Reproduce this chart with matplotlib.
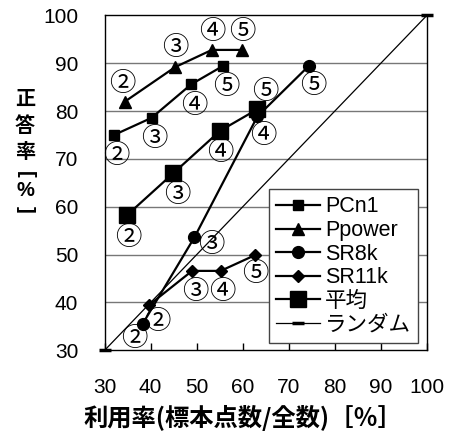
import matplotlib
matplotlib.use("Agg")
import matplotlib.pyplot as plt

plt.rcParams['font.family'] = ['Liberation Sans', 'Noto Sans CJK JP']

# recognition rate vs. usage rate, per feature set (steps 2..5)
steps = ['②', '③', '④', '⑤']

pcn1_x = [32.0, 40.2, 48.8, 55.8]
pcn1_y = [75.0, 78.6, 85.6, 89.5]

ppower_x = [34.4, 45.3, 53.3, 59.8]
ppower_y = [82.0, 89.2, 92.8, 92.8]

sr8k_x = [38.3, 49.5, 63.2, 74.4]
sr8k_y = [35.6, 53.6, 78.9, 89.5]

sr11k_x = [39.7, 49.0, 55.2, 62.7]
sr11k_y = [39.5, 46.6, 46.6, 49.9]

avg_x = [34.8, 44.9, 55.1, 63.2]
avg_y = [58.2, 67.0, 75.9, 80.4]

rand_x = [30, 100]
rand_y = [30, 100]

ticks = [30, 40, 50, 60, 70, 80, 90, 100]

fig = plt.figure(figsize=(4.55, 4.41), dpi=100)
ax = fig.add_axes([0.230, 0.2057, 0.708, 0.7592])

for v in ticks[1:-1]:
    ax.axhline(v, color='#777777', lw=1.0, zorder=0)

series = [
    (pcn1_x, pcn1_y, 's', 6.5, 'PCn1', [(2, -15)] * 4),
    (ppower_x, ppower_y, '^', 8.5, 'Ppower', [(-2, 13), (0, 14), (0, 13), (0, 13)]),
    (sr8k_x, sr8k_y, 'o', 8.5, 'SR8k', [(-6, -11), (12, -5), (4, -14), (3, -14)]),
    (sr11k_x, sr11k_y, 'D', 6.0, 'SR11k', [(6, -12), (2, -15), (1, -15), (0, -13)]),
    (avg_x, avg_y, 's', 11, '平均', [(1, -16), (3, -15), (0, -16), (6, 13)]),
]

for xs, ys, mk, ms, name, offs in series:
    ax.plot(xs, ys, color='black', lw=1.6, marker=mk, ms=ms, label=name, zorder=3)
    for x, y, s, off in zip(xs, ys, steps, offs):
        ax.annotate(s, (x, y), xytext=off, textcoords='offset points',
                    ha='center', va='center', fontsize=19,
                    family=['Noto Sans CJK JP'], zorder=4)

ax.plot(rand_x, rand_y, color='black', lw=0.9, marker='_', ms=9, mew=2.5,
        label='ランダム', clip_on=False, zorder=3)

ax.set_xlim(30, 100)
ax.set_ylim(30, 100)
ax.set_xticks(ticks)
ax.set_yticks(ticks)
ax.tick_params(axis='x', direction='in', length=5, width=1, pad=20, labelsize=15)
ax.tick_params(axis='y', length=0, pad=19, labelsize=15)
for sp in ax.spines.values():
    sp.set_linewidth(1.0)

leg = ax.legend(loc='lower left', bbox_to_anchor=(0.51, 0.022), borderaxespad=0,
                fontsize=15.5, handlelength=2.0, handletextpad=0.25,
                labelspacing=0.12, borderpad=0.35, fancybox=False,
                framealpha=1, edgecolor='#444444')
leg.get_frame().set_linewidth(1.0)

fig.text(0.533, 0.052, '利用率(標本点数/全数)［％］', ha='center', va='center',
         fontsize=17.5, fontweight='bold', family=['Noto Sans CJK JP'])

# y label written top to bottom, one character per row
ylab_chars = ['正', '答', '率', '[', '%', ']']
ylab_rows = [99, 126, 153, 174, 191, 209]
ylab_rot = [0, 0, 0, -90, 0, -90]
for ch, py, rot in zip(ylab_chars, ylab_rows, ylab_rot):
    fig.text(25 / 455, 1 - py / 441, ch, ha='center', va='center',
             fontsize=14.5, fontweight='bold', rotation=rot)

fig.savefig('out.png', dpi=100)
